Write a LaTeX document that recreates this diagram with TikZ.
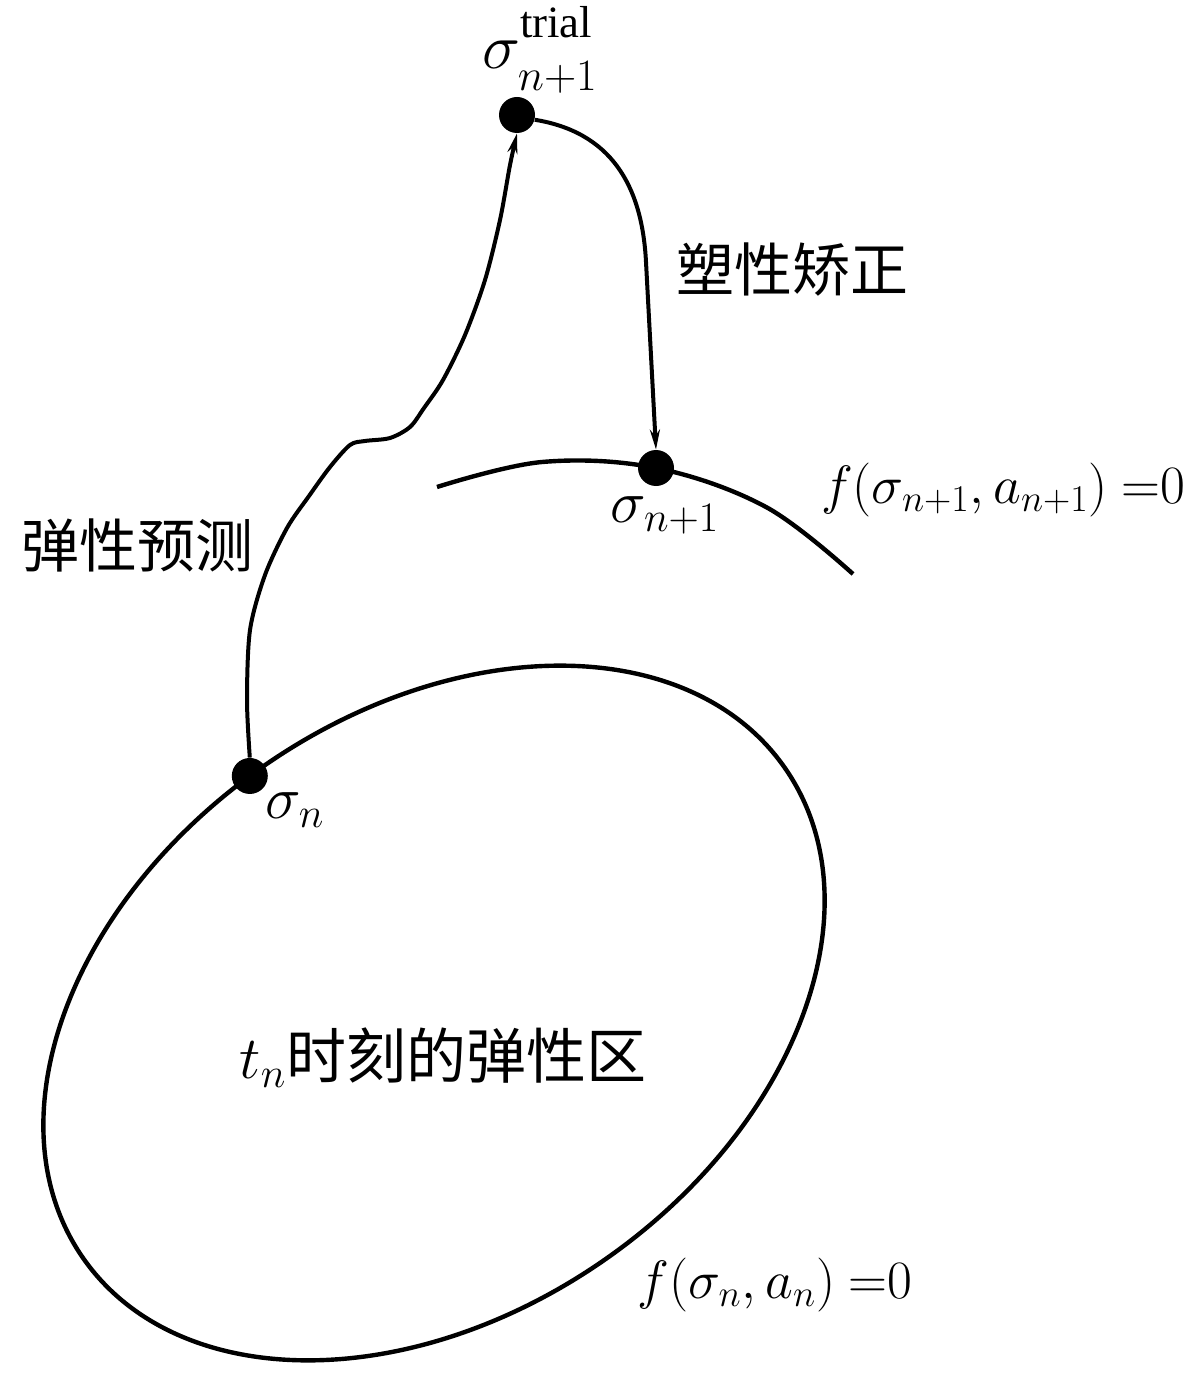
\RequirePackage{fix-cm}
\documentclass[tikz,border=0pt]{standalone}
\usepackage{fontspec}
\setmainfont{Liberation Serif}
\newfontfamily\cjk{Noto Sans CJK SC}
\usetikzlibrary{arrows.meta}
\begin{document}
\begin{tikzpicture}[x=0.5pt,y=-0.5pt,
  curve/.style={line width=2.2pt},
  pathline/.style={line width=2pt},
  dot/.style={circle,fill=black,inner sep=0pt,minimum size=18pt},
  arr/.style={-{Stealth[length=10pt,width=5pt]}},
  cjklabel/.style={font=\cjk\fontsize{29}{34}\selectfont, inner sep=0pt},
  mlabel/.style={font=\fontsize{30}{36}\selectfont, inner sep=0pt},
  flabel/.style={font=\fontsize{27}{32}\selectfont, inner sep=0pt},
]
\useasboundingbox (0,0) rectangle (1200,1385);
% elastic region at t_n
\begin{scope}[shift={(434,1013)}, rotate=35]
  \draw[curve] (0,0) ellipse [x radius=214pt, y radius=150pt];
  \coordinate (snpos) at (92:214pt and 150pt);
\end{scope}
\node[dot] (sn) at (snpos) {};
\node[dot] (trial) at (517,115) {};
\node[dot] (sn1) at (656,468) {};
% yield surface at n+1
\draw[curve] plot[smooth, tension=0.6] coordinates {(437,487) (542,462) (sn1.center) (766,507) (853,574)};
% elastic predictor
\draw[pathline, arr] plot[smooth, tension=0.5] coordinates {(sn.north) (247,700) (250,630) (265,575) (287,528) (309,496) (330,467) (350,445) (365,441) (390,438) (410,427) (424,408) (443,380) (465,335) (485,280) (500,220) (510,165) (trial.south)};
% plastic corrector
\draw[pathline, arr] (trial.-15) .. controls (610,132) and (642,184) .. (646,262) -- (sn1.north);
% labels
\node[mlabel, font=\fontsize{32}{38}\selectfont] (ltrial) at (540,50) {$\sigma^{\raisebox{4pt}{$\scriptstyle\mathrm{trial}$}}_{\raisebox{-3pt}{$\scriptstyle n+1$}}$};
\node[mlabel] (lsn1) at (665,515) {$\sigma_{n+1}$};
\node[mlabel] (lsn) at (295,810) {$\sigma_{n}$};
\node[cjklabel] (lplastic) at (792,270) {塑性矫正};
\node[cjklabel] (lelastic) at (137,545) {弹性预测};
\node[flabel] (lf1) at (1003,490) {$f(\sigma_{n+1},a_{n+1})\ {=}0$};
\node[flabel] (lf0) at (775,1285) {$f(\sigma_{n},a_{n})\ {=}0$};
\node[mlabel] (lregion) at (443,1058) {$t_n$\cjk 时刻的弹性区};
\end{tikzpicture}
\end{document}
